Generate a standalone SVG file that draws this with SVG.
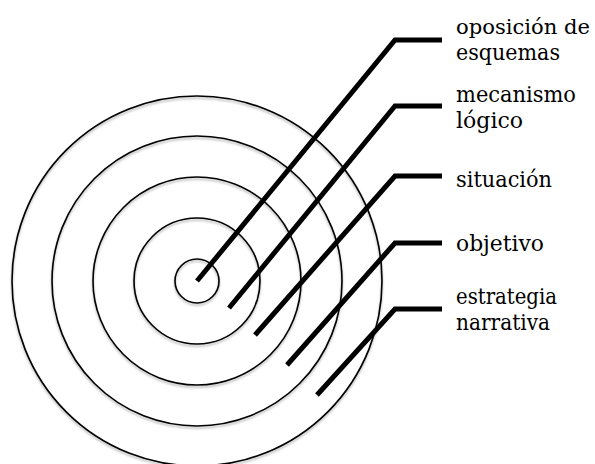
<svg xmlns="http://www.w3.org/2000/svg" width="595" height="464" viewBox="0 0 595 464">
<defs>
<style>
.ring{fill:none;stroke:#000;stroke-width:1.6}
.conn{fill:none;stroke:#000;stroke-width:5;stroke-linejoin:miter;stroke-linecap:butt}
.lbl{font-family:'DejaVu Serif',serif;font-size:23px;fill:#000}
.sm{font-size:21px}
</style>
<filter id="sh" x="-10%" y="-10%" width="120%" height="120%">
<feDropShadow dx="0" dy="2" stdDeviation="1.2" flood-color="#000" flood-opacity="0.3"/>
</filter>
</defs>
<rect width="595" height="464" fill="#fff"/>
<g id="rings" filter="url(#sh)">
<circle id="ring-estrategia" class="ring" cx="197" cy="281" r="185"/>
<circle id="ring-objetivo" class="ring" cx="197" cy="281" r="145"/>
<circle id="ring-situacion" class="ring" cx="197" cy="281" r="104"/>
<circle id="ring-mecanismo" class="ring" cx="197" cy="281" r="63"/>
<circle id="ring-oposicion" class="ring" cx="197" cy="281" r="22"/>
</g>
<g id="connectors">
<polyline class="conn" points="197,281 395,40 442,40"/>
<polyline class="conn" points="229,308 395,106 442,106"/>
<polyline class="conn" points="255,335 395,176 442,176"/>
<polyline class="conn" points="287,365 395,243 442,243"/>
<polyline class="conn" points="317,395 395,309 442,309"/>
</g>
<g id="label-oposicion"><text class="lbl sm" x="456" y="34" textLength="134" lengthAdjust="spacingAndGlyphs">oposición de</text><text class="lbl" x="456" y="60" textLength="104" lengthAdjust="spacingAndGlyphs">esquemas</text></g>
<g id="label-mecanismo"><text class="lbl" x="456" y="102" textLength="120" lengthAdjust="spacingAndGlyphs">mecanismo</text><text class="lbl" x="456" y="128" textLength="67" lengthAdjust="spacingAndGlyphs">lógico</text></g>
<g id="label-situacion"><text class="lbl" x="456" y="187" textLength="96" lengthAdjust="spacingAndGlyphs">situación</text></g>
<g id="label-objetivo"><text class="lbl" x="456" y="251" textLength="88" lengthAdjust="spacingAndGlyphs">objetivo</text></g>
<g id="label-estrategia"><text class="lbl" x="456" y="304" textLength="101" lengthAdjust="spacingAndGlyphs">estrategia</text><text class="lbl" x="456" y="330" textLength="94" lengthAdjust="spacingAndGlyphs">narrativa</text></g>
</svg>
